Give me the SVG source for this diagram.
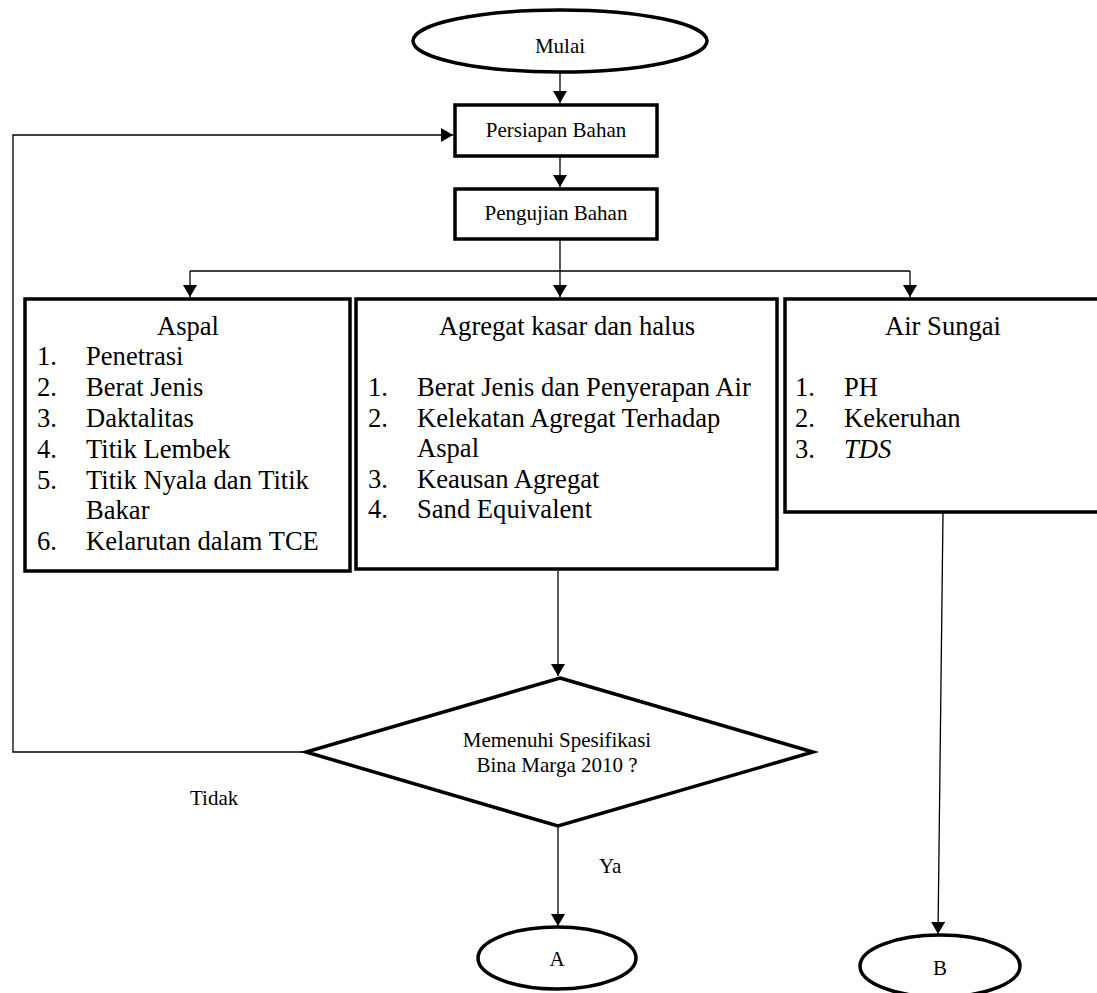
<svg xmlns="http://www.w3.org/2000/svg" width="1097" height="993" viewBox="0 0 1097 993">
<style>
.n{fill:#fff;stroke:#000;stroke-width:3.5}
.c{fill:none;stroke:#000;stroke-width:1.3}
.t{font-family:'Liberation Serif',Tinos,'Times New Roman',Times,'DejaVu Serif',serif;font-size:21px;fill:#000}
.b{font-family:'Liberation Serif',Tinos,'Times New Roman',Times,'DejaVu Serif',serif;font-size:26.6px;fill:#000}
.m{text-anchor:middle}
</style>
<defs>
<marker id="ar" markerWidth="12" markerHeight="14" refX="12" refY="7" orient="auto" markerUnits="userSpaceOnUse">
<path d="M0,0 L12,7 L0,14 Z" fill="#000"/>
</marker>
</defs>
<rect width="1097" height="993" fill="#fff"/>
<g id="connectors">
<line class="c" x1="560" y1="72" x2="560" y2="103" marker-end="url(#ar)"/>
<line class="c" x1="560" y1="157" x2="560" y2="187" marker-end="url(#ar)"/>
<polyline class="c" points="560,240 560,271"/>
<polyline class="c" points="190,271 910,271"/>
<line class="c" x1="190" y1="271" x2="190" y2="297" marker-end="url(#ar)"/>
<line class="c" x1="560" y1="271" x2="560" y2="297" marker-end="url(#ar)"/>
<line class="c" x1="910" y1="271" x2="910" y2="297" marker-end="url(#ar)"/>
<line class="c" x1="558" y1="571" x2="558" y2="676" marker-end="url(#ar)"/>
<line class="c" x1="558" y1="827" x2="558" y2="926" marker-end="url(#ar)"/>
<line class="c" x1="943" y1="513" x2="938" y2="934" marker-end="url(#ar)"/>
<polyline class="c" points="304,752 13,752 13,135 453,135" marker-end="url(#ar)"/>
<text class="t" x="190" y="805" font-family="Liberation Serif, serif">Tidak</text>
<text class="t" x="599" y="873" font-family="Liberation Serif, serif">Ya</text>
</g>
<g id="mulai">
<ellipse class="n" cx="560" cy="41" rx="147" ry="31"/>
<text class="t m" x="560" y="53">Mulai</text>
</g>
<g id="persiapan">
<rect class="n" x="455" y="105" width="202" height="51"/>
<text class="t m" x="556" y="137">Persiapan Bahan</text>
</g>
<g id="pengujian">
<rect class="n" x="455" y="189" width="202" height="50"/>
<text class="t m" x="556" y="220">Pengujian Bahan</text>
</g>
<g id="aspal">
<rect class="n" x="25" y="299" width="325" height="272"/>
<text class="b m" x="188" y="335">Aspal</text>
<text class="b" x="37" y="365">1.</text><text class="b" x="86" y="365">Penetrasi</text>
<text class="b" x="37" y="396">2.</text><text class="b" x="86" y="396">Berat Jenis</text>
<text class="b" x="37" y="427">3.</text><text class="b" x="86" y="427">Daktalitas</text>
<text class="b" x="37" y="458">4.</text><text class="b" x="86" y="458">Titik Lembek</text>
<text class="b" x="37" y="489">5.</text><text class="b" x="86" y="489">Titik Nyala dan Titik</text>
<text class="b" x="86" y="519">Bakar</text>
<text class="b" x="37" y="550">6.</text><text class="b" x="86" y="550">Kelarutan dalam TCE</text>
</g>
<g id="agregat">
<rect class="n" x="356" y="299" width="421" height="270"/>
<text class="b m" x="567" y="335">Agregat kasar dan halus</text>
<text class="b" x="368" y="396">1.</text><text class="b" x="417" y="396">Berat Jenis dan Penyerapan Air</text>
<text class="b" x="368" y="427">2.</text><text class="b" x="417" y="427">Kelekatan Agregat Terhadap</text>
<text class="b" x="417" y="457">Aspal</text>
<text class="b" x="368" y="488">3.</text><text class="b" x="417" y="488">Keausan Agregat</text>
<text class="b" x="368" y="518">4.</text><text class="b" x="417" y="518">Sand Equivalent</text>
</g>
<g id="air-sungai">
<rect class="n" x="785" y="299" width="330" height="213"/>
<text class="b m" x="943" y="335">Air Sungai</text>
<text class="b" x="795" y="396">1.</text><text class="b" x="844" y="396">PH</text>
<text class="b" x="795" y="427">2.</text><text class="b" x="844" y="427">Kekeruhan</text>
<text class="b" x="795" y="458">3.</text><text class="b" x="844" y="458" font-style="italic">TDS</text>
</g>
<g id="keputusan">
<polygon class="n" points="560,678 813,752 558,826 306,752"/>
<text class="t m" x="557" y="747">Memenuhi Spesifikasi</text>
<text class="t m" x="557" y="772">Bina Marga 2010 ?</text>
</g>
<g id="a">
<ellipse class="n" cx="557" cy="958" rx="79" ry="31"/>
<text class="t m" x="557" y="966">A</text>
</g>
<g id="b">
<ellipse class="n" cx="940" cy="966" rx="80" ry="31"/>
<text class="t m" x="940" y="975">B</text>
</g>
</svg>
